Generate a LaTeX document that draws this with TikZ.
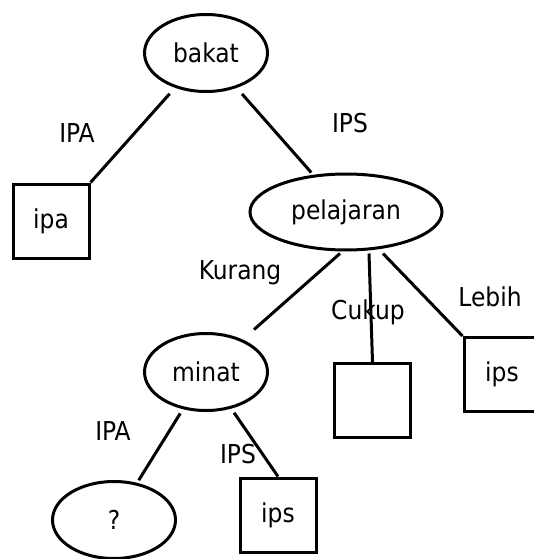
\documentclass[tikz,border=0pt]{standalone}
\usepackage{fontspec}
\setmainfont{DejaVu Sans Condensed}
\usetikzlibrary{shapes.geometric,calc}

\tikzset{
  edge/.style={line width=3pt},
  decision/.style={ellipse, draw, line width=3pt, minimum width=123pt, minimum height=77pt, inner sep=0pt},
  wide/.style={decision, minimum width=192pt, minimum height=76pt},
  leaf/.style={rectangle, draw, line width=3pt, minimum width=76pt, minimum height=74pt, inner sep=0pt},
  lbl/.style={inner sep=0pt}
}

\begin{document}
\begin{tikzpicture}[x=1pt, y=-1pt, font=\fontsize{26}{30}\selectfont]
\useasboundingbox (0,0) rectangle (534,559);
\fill[white] (0,0) rectangle (534,559);

% decision nodes
\node[decision] (bakat) at (206,53) {bakat};
\node[wide] (pelajaran) at (346,212) {pelajaran};
\node[decision] (minat) at (206,372) {minat};
\node[decision] (q) at (114,520) {?};

% leaves
\node[leaf] (ipa) at (51,221) {ipa};
\node[leaf] (cukupbox) at (372.5,400.5) {};
\node[leaf] (lebihbox) at (502,374.5) {ips};
\node[leaf] (ipsbox) at (278,515) {ips};

% branch labels
\node[lbl] (l1) at (77,133) {IPA};
\node[lbl] (l2) at (350,123) {IPS};
\node[lbl] (l3) at (240,273) {Kurang};
\node[lbl] (l4) at (368,312) {Cukup};
\node[lbl] (l5) at (490,297) {Lebih};
\node[lbl] (l6) at (113,431) {IPA};
\node[lbl] (l7) at (238,454) {IPS};

% branches
\draw[edge, shorten <=8pt] (bakat) -- (ipa.north east);
\draw[edge, shorten <=8pt, shorten >=3pt] (bakat) -- (pelajaran);
\draw[edge, shorten >=15pt] ($(pelajaran.south)+(-6,2)$) -- (minat);
\draw[edge] ($(pelajaran.south)+(23,2)$) -- (cukupbox.north);
\draw[edge] ($(pelajaran.south)+(37,2)$) -- (lebihbox.north west);
\draw[edge, shorten <=5pt, shorten >=3pt] (minat) -- (q);
\draw[edge, shorten <=5pt] (minat) -- (ipsbox.north);
\end{tikzpicture}
\end{document}
